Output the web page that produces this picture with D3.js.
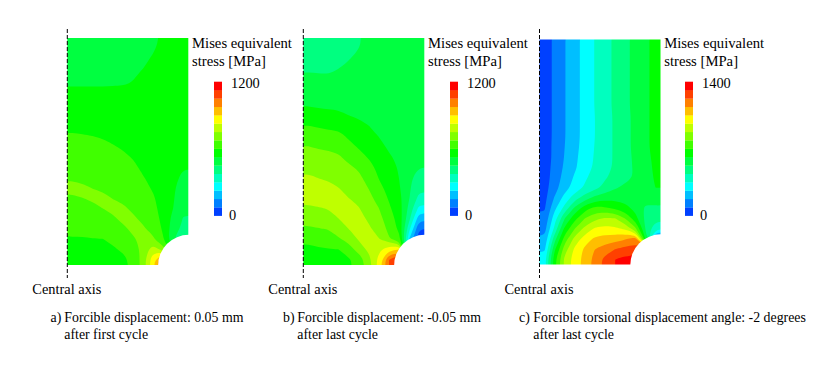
<!DOCTYPE html>
<html>
<head>
<meta charset="utf-8">
<script src="https://cdn.jsdelivr.net/npm/d3@7"></script>
<style>
  html, body { margin: 0; padding: 0; background: #fff; }
  svg { display: block; }
  text { font-family: "Liberation Serif", serif; font-size: 14.4px; fill: #000; }
  .title { font-size: 14.7px; }
  .caption { font-size: 13.85px; }
</style>
</head>
<body>
<svg id="chart" width="838" height="370"></svg>
<script>
// legend bands, lowest stress first
const bandColors = ['#0040ff', '#0080ff', '#00bfff', '#00ffff', '#00ffbf', '#00ff80', '#00ff40', '#00ff00',
    '#40ff00', '#80ff00', '#bfff00', '#ffff00', '#ffbf00', '#ff8000', '#ff4000', '#ff0000'];

const legendMax = [1200, 1200, 1400];
const titleLines = ['Mises equivalent', 'stress [MPa]'];
const axisLabel = 'Central axis';
const captionTags = ['a)', 'b)', 'c)'];
const captionFirst = ['Forcible displacement: 0.05 mm', 'Forcible displacement: -0.05 mm', 'Forcible torsional displacement angle: -2 degrees'];
const captionSecond = ['after first cycle', 'after last cycle', 'after last cycle'];

// stress, in legend bands (1 band = max / 16), 12 columns x 22 rows
const stressA = [
    [6.7, 6.7, 6.7, 6.7, 6.7, 6.7, 6.7, 6.8, 6.9, 7.1, 7.2, 7.2],
    [6.7, 6.7, 6.7, 6.7, 6.7, 6.7, 6.7, 6.8, 7.0, 7.2, 7.3, 7.3],
    [6.7, 6.7, 6.7, 6.7, 6.7, 6.7, 6.8, 6.9, 7.2, 7.3, 7.3, 7.3],
    [6.8, 6.8, 6.8, 6.8, 6.8, 6.8, 6.9, 7.1, 7.3, 7.3, 7.3, 7.3],
    [6.95, 6.95, 6.95, 6.95, 6.95, 6.97, 7.05, 7.3, 7.4, 7.4, 7.4, 7.4],
    [7.2, 7.2, 7.2, 7.2, 7.25, 7.3, 7.35, 7.4, 7.4, 7.4, 7.4, 7.3],
    [7.4, 7.4, 7.4, 7.4, 7.4, 7.4, 7.4, 7.45, 7.45, 7.4, 7.4, 7.3],
    [7.6, 7.6, 7.6, 7.6, 7.55, 7.5, 7.5, 7.45, 7.45, 7.4, 7.3, 7.2],
    [7.86, 7.84, 7.8, 7.77, 7.72, 7.66, 7.6, 7.5, 7.45, 7.4, 7.3, 7.2],
    [8.06, 8.04, 8.0, 7.95, 7.85, 7.75, 7.68, 7.52, 7.45, 7.4, 7.3, 7.2],
    [8.26, 8.24, 8.2, 8.13, 8.04, 7.93, 7.78, 7.55, 7.45, 7.4, 7.3, 7.2],
    [8.46, 8.43, 8.38, 8.31, 8.22, 8.11, 7.95, 7.7, 7.55, 7.4, 7.3, 7.2],
    [8.68, 8.65, 8.6, 8.52, 8.42, 8.31, 8.15, 7.85, 7.7, 7.45, 7.25, 7.05],
    [8.88, 8.84, 8.79, 8.7, 8.6, 8.49, 8.33, 8.04, 7.8, 7.5, 7.2, 6.85],
    [9.2, 9.1, 8.98, 8.89, 8.78, 8.67, 8.51, 8.24, 7.9, 7.55, 7.15, 6.5],
    [8.9, 9.0, 9.15, 9.15, 8.98, 8.87, 8.71, 8.46, 8.1, 7.6, 7.1, 6.3],
    [8.6, 8.7, 8.75, 9.0, 9.15, 9.1, 8.89, 8.66, 8.25, 7.65, 7.0, 6.15],
    [8.4, 8.45, 8.5, 8.7, 8.9, 9.15, 9.1, 8.86, 8.4, 7.75, 6.7, 5.95],
    [8.15, 8.15, 8.25, 8.4, 8.6, 8.85, 9.15, 9.1, 8.75, 7.85, 6.5, 5.75],
    [7.95, 7.95, 7.98, 7.98, 8.15, 8.5, 8.9, 9.2, 9.15, 8.1, 6.0, 5.5],
    [7.8, 7.8, 7.82, 7.85, 7.9, 8.1, 8.55, 9.25, 10.6, 9.5, 7, 5.5],
    [7.65, 7.65, 7.68, 7.75, 7.72, 7.8, 8.2, 9.4, 11.7, 14.5, 14, 14]
];

const stressB = [
    [5.6, 5.6, 5.65, 5.75, 5.8, 5.95, 6.2, 6.35, 6.4, 6.45, 6.5, 6.5],
    [5.6, 5.6, 5.7, 5.85, 5.9, 6.05, 6.25, 6.4, 6.4, 6.45, 6.5, 6.5],
    [5.75, 5.75, 5.8, 5.9, 6.05, 6.15, 6.3, 6.4, 6.45, 6.5, 6.5, 6.5],
    [6.05, 6.02, 6.0, 6.1, 6.2, 6.25, 6.35, 6.4, 6.45, 6.5, 6.5, 6.5],
    [6.25, 6.25, 6.25, 6.3, 6.3, 6.3, 6.4, 6.45, 6.45, 6.5, 6.5, 6.5],
    [6.5, 6.5, 6.45, 6.45, 6.45, 6.4, 6.45, 6.45, 6.45, 6.5, 6.5, 6.5],
    [6.95, 6.85, 6.8, 6.75, 6.65, 6.55, 6.5, 6.5, 6.5, 6.5, 6.5, 6.5],
    [7.45, 7.35, 7.3, 7.25, 7.0, 6.85, 6.7, 6.55, 6.5, 6.5, 6.5, 6.5],
    [8.0, 7.9, 7.8, 7.75, 7.45, 7.3, 7.0, 6.75, 6.55, 6.5, 6.5, 6.45],
    [8.5, 8.4, 8.3, 8.25, 7.85, 7.7, 7.35, 6.97, 6.7, 6.6, 6.5, 6.4],
    [9.0, 8.9, 8.85, 8.7, 8.25, 7.9, 7.65, 7.25, 6.85, 6.7, 6.5, 6.3],
    [9.36, 9.27, 9.2, 9.1, 8.7, 8.3, 7.9, 7.5, 7.1, 6.8, 6.4, 6.15],
    [9.75, 9.63, 9.55, 9.41, 9.14, 8.85, 8.3, 7.75, 7.4, 6.9, 6.3, 6.02],
    [10.1, 9.97, 9.88, 9.71, 9.42, 9.2, 8.6, 7.95, 7.6, 6.98, 6.2, 5.6],
    [10.35, 10.25, 10.2, 10.0, 9.68, 9.45, 8.95, 8.2, 7.75, 7.1, 6.15, 5.25],
    [10.3, 10.35, 10.4, 10.25, 10.0, 9.75, 9.28, 8.6, 7.9, 7.3, 6.05, 4.7],
    [9.85, 9.95, 10.05, 10.4, 10.3, 10.05, 9.5, 9.0, 8.15, 7.45, 5.7, 3.7],
    [9.35, 9.5, 9.65, 10.0, 10.4, 10.3, 9.85, 9.3, 8.5, 7.6, 5.3, 2.3],
    [8.85, 8.95, 9.05, 9.4, 10.0, 10.4, 10.15, 9.6, 8.75, 7.75, 4.3, 1.0],
    [8.2, 8.35, 8.45, 8.9, 9.3, 10.1, 10.4, 10.05, 9.1, 8.4, 3.0, 0.3],
    [7.8, 7.9, 7.95, 8.0, 8.55, 9.4, 10.25, 10.7, 11.8, 12, 2, 0.2],
    [7.6, 7.7, 7.75, 7.8, 7.85, 8.4, 9.6, 11.4, 14, 16, 2, 0.2]
];

const stressC = [
    [0.5, 1.2, 1.95, 2.65, 3.35, 4.05, 4.65, 5.2, 5.75, 6.3, 6.8, 7.3],
    [0.5, 1.2, 1.95, 2.65, 3.35, 4.05, 4.65, 5.2, 5.75, 6.3, 6.8, 7.3],
    [0.5, 1.2, 1.95, 2.65, 3.35, 4.05, 4.65, 5.2, 5.75, 6.3, 6.8, 7.3],
    [0.5, 1.2, 1.95, 2.65, 3.35, 4.05, 4.65, 5.2, 5.75, 6.3, 6.8, 7.3],
    [0.5, 1.2, 1.95, 2.65, 3.35, 4.05, 4.65, 5.2, 5.75, 6.3, 6.8, 7.3],
    [0.5, 1.2, 1.95, 2.65, 3.35, 4.05, 4.65, 5.2, 5.75, 6.3, 6.8, 7.3],
    [0.5, 1.2, 1.95, 2.65, 3.35, 4.05, 4.65, 5.2, 5.75, 6.3, 6.8, 7.3],
    [0.5, 1.2, 1.95, 2.65, 3.35, 4.0, 4.6, 5.15, 5.7, 6.25, 6.8, 7.3],
    [0.5, 1.2, 1.95, 2.65, 3.35, 4.0, 4.6, 5.15, 5.7, 6.25, 6.8, 7.3],
    [0.5, 1.2, 1.95, 2.65, 3.35, 4.0, 4.6, 5.15, 5.7, 6.25, 6.8, 7.3],
    [0.5, 1.25, 2.0, 2.7, 3.4, 4.05, 4.6, 5.15, 5.7, 6.25, 6.8, 7.3],
    [0.45, 1.25, 2.05, 2.8, 3.45, 4.1, 4.6, 5.15, 5.65, 6.2, 6.7, 7.25],
    [0.5, 1.35, 2.15, 2.85, 3.55, 4.15, 4.65, 5.15, 5.65, 6.15, 6.6, 7.2],
    [0.5, 1.45, 2.35, 3.15, 3.85, 4.4, 4.9, 5.3, 5.7, 6.1, 6.5, 7.15],
    [0.6, 1.6, 2.6, 3.4, 4.15, 4.7, 5.3, 5.9, 6.25, 6.3, 6.6, 7.0],
    [0.7, 2.1, 3.4, 4.55, 5.5, 6.35, 6.6, 6.7, 6.6, 6.5, 6.3, 6.4],
    [0.9, 2.75, 4.35, 6.25, 7.6, 8.3, 8.2, 7.85, 7.35, 6.7, 5.85, 5.85],
    [1.2, 3.6, 6.0, 7.7, 9.0, 9.75, 10.15, 10.05, 9.0, 7.4, 5.75, 5.4],
    [1.6, 4.25, 7.25, 9.0, 10.3, 11.15, 11.35, 11.2, 10.8, 9.3, 6, 4.2],
    [2.2, 5.6, 8.45, 10.35, 11.5, 12.2, 12.4, 12.6, 12.9, 13.5, 7, 1],
    [2.8, 6.8, 9.5, 11.2, 12.2, 13.0, 13.5, 14, 14.3, 14.5, 15, 15],
    [3.55, 7.65, 10.25, 11.5, 12.35, 13.4, 14.3, 15, 15.3, 15.4, 15.4, 15.4]
];

const stressGrids = [stressA, stressB, stressC];

const panelLeft = [67.3, 303.3, 539.5];
const panelTop = [38, 38, 39.5];
const panelBottom = [265, 265, 264.5];
const legendLeft = [214, 450, 685];
const captionLeft = [50.5, 283, 519];
const captionTextLeft = [64.3, 297.3, 533.3];

const PLATE_WIDTH = 121;
const HOLE_RADIUS = 30;

const svg = d3.select('#chart');

svg.append('filter')
    .attr('id', 'soft')
    .attr('color-interpolation-filters', 'sRGB')
    .append('feGaussianBlur')
    .attr('stdDeviation', 0.45);

const legendY = d3.scaleLinear().domain([0, bandColors.length]).range([215.7, 81.7]);

// repeat the edge rows and columns so contour corners fall outside the clip
function padGrid(grid) {
    const rows = grid.map(r => [r[0], ...r, r[r.length - 1]]);
    return [rows[0], ...rows, rows[rows.length - 1]];
}

stressGrids.forEach((grid, p) => {
    const rows = grid.length;
    const cols = grid[0].length;
    const left = panelLeft[p];
    const x = d3.scaleLinear().domain([1, cols + 1]).range([left, left + PLATE_WIDTH]);
    const y = d3.scaleLinear().domain([1, rows + 1]).range([panelTop[p], panelBottom[p]]);

    svg.append('clipPath')
        .attr('id', `plate-${p}`)
        .append('rect')
        .attr('x', left)
        .attr('y', panelTop[p])
        .attr('width', PLATE_WIDTH)
        .attr('height', panelBottom[p] - panelTop[p]);

    const g = svg.append('g')
        .attr('clip-path', `url(#plate-${p})`)
        .append('g')
        .attr('filter', 'url(#soft)');

    const contours = d3.contours()
        .size([cols + 2, rows + 2])
        .thresholds(d3.range(-1, bandColors.length))(padGrid(grid).flat());

    const ringLine = d3.line()
        .x(d => x(d[0]))
        .y(d => y(d[1]))
        .curve(d3.curveBasisClosed);

    g.selectAll('path')
        .data(contours)
        .join('path')
        .attr('d', d => d.coordinates.map(poly => poly.map(ring => ringLine(ring.slice(0, -1))).join('')).join(''))
        .attr('fill-rule', 'evenodd')
        .attr('fill', d => bandColors[Math.max(0, d.value)]);

    // notch cut from the lower right corner
    svg.append('circle')
        .attr('cx', left + PLATE_WIDTH + 0.5)
        .attr('cy', panelBottom[p] + 0.5)
        .attr('r', HOLE_RADIUS + 0.7)
        .attr('fill', '#fff');

    svg.append('line')
        .attr('x1', left).attr('x2', left)
        .attr('y1', 29).attr('y2', 278)
        .attr('stroke', '#000')
        .attr('stroke-width', 1)
        .attr('stroke-dasharray', '4,2');

    titleLines.forEach((line, i) => {
        svg.append('text')
            .attr('class', 'title')
            .attr('x', left + PLATE_WIDTH + 3.7)
            .attr('y', 48 + i * 18)
            .text(line);
    });

    svg.append('g').selectAll('rect')
        .data(bandColors)
        .join('rect')
        .attr('x', legendLeft[p])
        .attr('y', (d, i) => legendY(i + 1))
        .attr('width', 8)
        .attr('height', (d, i) => legendY(i) - legendY(i + 1) + 0.2)
        .attr('fill', d => d);

    svg.append('text')
        .attr('x', legendLeft[p] + 17)
        .attr('y', 88)
        .text(legendMax[p]);

    svg.append('text')
        .attr('x', legendLeft[p] + 15)
        .attr('y', 220)
        .text(0);

    svg.append('text')
        .attr('x', left - 35)
        .attr('y', 294)
        .text(axisLabel);

    svg.append('text')
        .attr('class', 'caption')
        .attr('x', captionLeft[p])
        .attr('y', 322)
        .text(captionTags[p]);

    svg.append('text')
        .attr('class', 'caption')
        .attr('x', captionTextLeft[p])
        .attr('y', 322)
        .text(captionFirst[p]);

    svg.append('text')
        .attr('class', 'caption')
        .attr('x', captionTextLeft[p])
        .attr('y', 339)
        .text(captionSecond[p]);
});
</script>
</body>
</html>
